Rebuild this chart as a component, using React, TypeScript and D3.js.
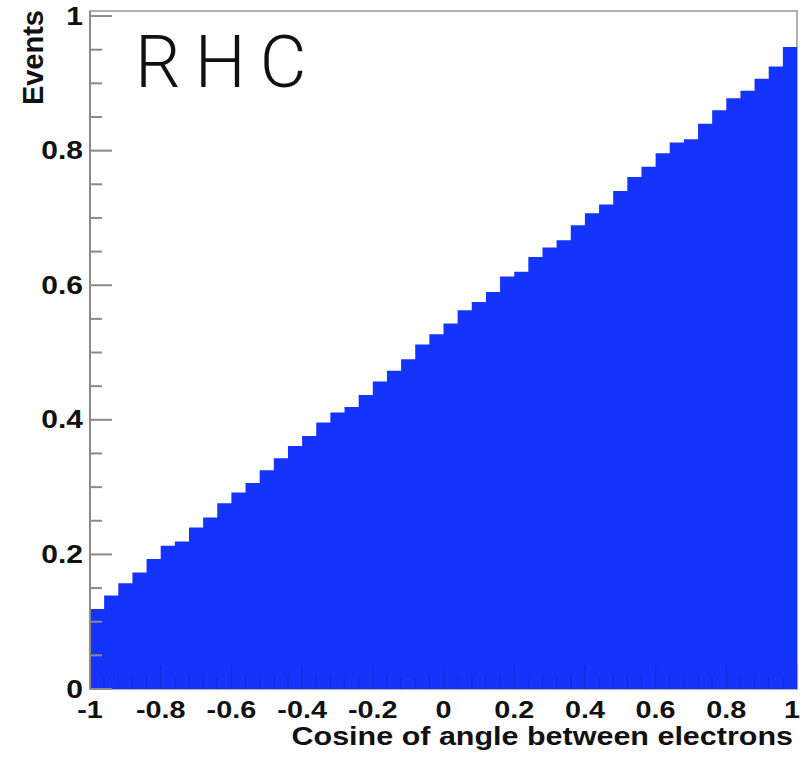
import React from "react";
import * as d3 from "d3";

const binEdgesStart = -1;
const binWidth = 0.04;
const binValues = [
  0.119, 0.139, 0.157, 0.173, 0.193, 0.213, 0.219, 0.24, 0.255, 0.276,
  0.292, 0.306, 0.325, 0.343, 0.361, 0.376, 0.396, 0.411, 0.419, 0.437,
  0.457, 0.473, 0.49, 0.512, 0.527, 0.543, 0.563, 0.575, 0.59, 0.613,
  0.62, 0.642, 0.656, 0.667, 0.689, 0.707, 0.72, 0.74, 0.761, 0.776,
  0.796, 0.812, 0.817, 0.84, 0.86, 0.878, 0.889, 0.907, 0.925, 0.954,
];
const xTickValues = [-1, -0.8, -0.6, -0.4, -0.2, 0, 0.2, 0.4, 0.6, 0.8, 1];
const xTickLabels = ["-1", "-0.8", "-0.6", "-0.4", "-0.2", "0", "0.2", "0.4", "0.6", "0.8", "1"];
const yTickValues = [0, 0.2, 0.4, 0.6, 0.8, 1];
const yTickLabels = ["0", "0.2", "0.4", "0.6", "0.8", "1"];
const xTitle = "Cosine of angle between electrons";
const yTitle = "Events";
const panelLabel = "RHC";

export default function App() {
  const W = 801, H = 759;
  const left = 90, right = 797, top = 11, bottom = 689;
  const x = d3.scaleLinear().domain([-1, 1]).range([left, right]);
  const y = d3.scaleLinear().domain([0, 1.0075]).range([bottom, top]);

  const pts = binValues.map((v, i) => ({ x: binEdgesStart + i * binWidth, v }));
  pts.push({ x: 1, v: binValues[binValues.length - 1] });
  const area = d3
    .area<{ x: number; v: number }>()
    .x((d) => x(d.x))
    .y0(y(0))
    .y1((d) => y(d.v))
    .curve(d3.curveStepAfter);

  const yMinor = d3.range(0, 1.0001, 0.05);
  const xMinor = d3.range(-1, 1.0001, 0.04);
  const font = "'Liberation Sans', Arial, Helvetica, sans-serif";

  return (
    <svg
      width={W}
      height={H}
      style={{ position: "absolute", left: 0, top: 0, background: "#fff" }}
    >
      <rect x={0} y={0} width={W} height={H} fill="#fff" />
      <rect x={left} y={top} width={right - left} height={bottom - top} fill="none" stroke="#b0b0b0" strokeWidth={2} />
      <path d={area(pts) || ""} fill="#1434fb" />
      {xMinor.map((t, i) => {
        const major = Math.abs(Math.round(t * 10) / 10 - t) < 1e-6 && Math.round(t * 10) % 2 === 0;
        return (
          <line key={"xm" + i} x1={x(t)} x2={x(t)} y1={bottom} y2={bottom - (major ? 24 : 12)} stroke="#000" strokeOpacity={0.12} strokeWidth={1.5} />
        );
      })}
      <line x1={left} x2={left} y1={top} y2={bottom} stroke="#8a8a8a" strokeWidth={2} />
      {yMinor.map((t, i) => {
        const major = i % 4 === 0;
        return (
          <line key={"ym" + i} x1={left} x2={left + (major ? 22 : 12)} y1={y(t)} y2={y(t)} stroke="#8a8a8a" strokeWidth={2} />
        );
      })}
      {yTickValues.map((t, i) => (
        <g key={"yl" + i} transform={`translate(83,${y(t)}) scale(1.2,1)`}>
          <text textAnchor="end" dominantBaseline="central" fontFamily={font} fontWeight="bold" fontSize={25} fill="#111">
            {yTickLabels[i]}
          </text>
        </g>
      ))}
      {xTickValues.map((t, i) => {
        const last = i === xTickValues.length - 1;
        const px = last ? Math.min(x(t) + 3, W - 1) : x(t);
        return (
          <g key={"xl" + i} transform={`translate(${px},718) scale(1.2,1)`}>
            <text textAnchor={last ? "end" : "middle"} fontFamily={font} fontWeight="bold" fontSize={24} fill="#111">
              {xTickLabels[i]}
            </text>
          </g>
        );
      })}
      <g transform={`translate(793,745) scale(1.22,1)`}>
        <text textAnchor="end" fontFamily={font} fontWeight="bold" fontSize={25} fill="#111">
          {xTitle}
        </text>
      </g>
      <text transform="translate(43,10) rotate(-90)" textAnchor="end" fontFamily={font} fontWeight="bold" fontSize={29} fill="#111">
        {yTitle}
      </text>
      <text x={135} y={87} fontFamily="Roboto, 'Liberation Sans', sans-serif" fontWeight={300} fontSize={72} letterSpacing={14} fill="#111">
        {panelLabel}
      </text>
    </svg>
  );
}
